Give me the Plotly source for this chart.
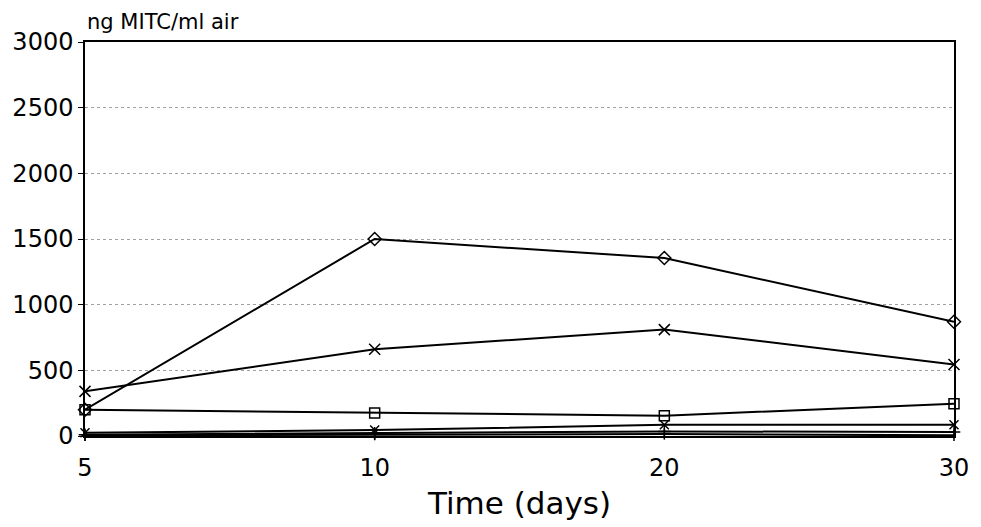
import plotly.graph_objects as go

days = ["5", "10", "20", "30"]
pos = [0, 1, 2, 3]
y_ticks = [0, 500, 1000, 1500, 2000, 2500, 3000]

s_diamond = [200, 1500, 1355, 870]
s_x = [340, 660, 810, 545]
s_square = [200, 175, 155, 245]
s_x2 = [25, 45, 85, 85]
s_plus = [10, 20, 35, 30]
s_low = [5, 10, 15, 5]

series = [
    (s_diamond, "diamond-open", 10),
    (s_x, "x-thin-open", 11),
    (s_square, "square-open", 10),
    (s_x2, "x-thin-open", 9),
    (s_plus, "cross-thin-open", 9),
    (s_low, "line-ns-open", 8),
]

fig = go.Figure()
for vals, sym, size in series:
    fig.add_trace(go.Scatter(
        x=pos, y=vals, mode="lines+markers",
        line=dict(color="black", width=2),
        marker=dict(symbol=sym, size=size, color="black",
                    line=dict(color="black", width=1.5)),
        cliponaxis=False, showlegend=False,
    ))

font = "DejaVu Sans"
fig.update_layout(
    width=981, height=527,
    margin=dict(l=85, r=23, t=42, b=91),
    paper_bgcolor="white", plot_bgcolor="white",
    font=dict(family=font, color="black"),
    xaxis=dict(
        range=[0, 3], tickvals=pos, ticktext=days,
        showgrid=False, zeroline=False,
        showline=True, linecolor="black", linewidth=1.5, mirror=True,
        ticks="outside", ticklen=9, tickcolor="rgba(0,0,0,0)",
        tickfont=dict(size=24, family=font),
        title=dict(text="Time (days)", font=dict(size=31, family=font), standoff=12),
    ),
    yaxis=dict(
        range=[0, 3000], tickvals=y_ticks,
        showgrid=True, gridcolor="#a0a0a0", griddash="dot", gridwidth=1,
        zeroline=False,
        showline=True, linecolor="black", linewidth=1.5, mirror=True,
        ticks="outside", ticklen=5, tickcolor="black",
        tickfont=dict(size=24, family=font),
    ),
    annotations=[dict(
        text="ng MITC/ml air", xref="paper", yref="paper",
        x=0, y=1, xanchor="left", yanchor="bottom", yshift=6,
        showarrow=False, font=dict(size=21, family=font),
    )],
)

fig.write_html("out.html")
